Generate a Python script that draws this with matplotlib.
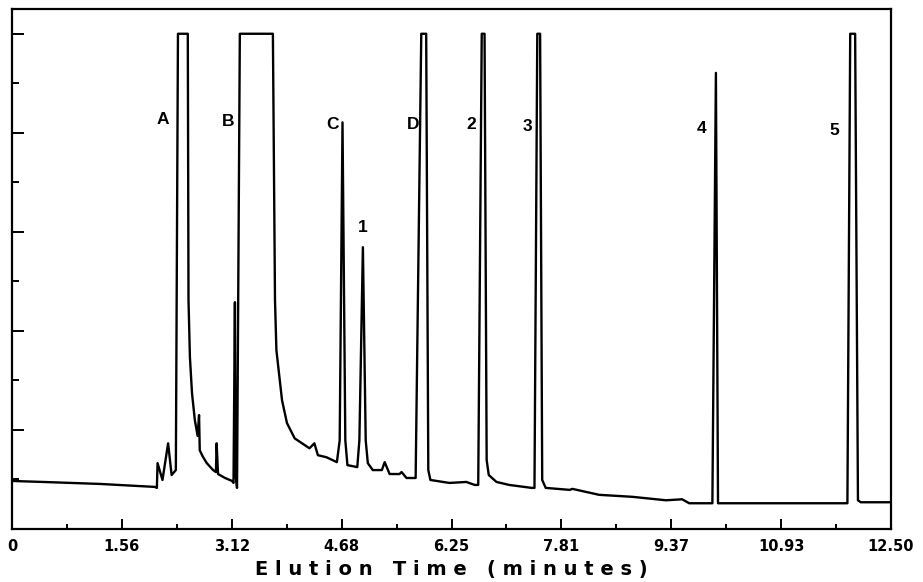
import numpy as np
import matplotlib
matplotlib.use('Agg')
import matplotlib.pyplot as plt

# Trazo del cromatograma (tiempo en minutos, señal en divisiones del eje)
time_min = [0.00, 0.44, 1.25, 2.03, 2.06, 2.07, 2.14, 2.22, 2.27, 2.33,
            2.36, 2.50, 2.51, 2.53, 2.56, 2.60, 2.64, 2.66, 2.67, 2.71,
            2.77, 2.86, 2.90, 2.91, 2.93, 3.03, 3.13, 3.15, 3.17, 3.18,
            3.20, 3.24, 3.71, 3.74, 3.76, 3.84, 3.91, 4.02, 4.23, 4.30,
            4.35, 4.47, 4.62, 4.66, 4.70, 4.74, 4.77, 4.91, 4.94, 4.99,
            5.03, 5.06, 5.13, 5.26, 5.30, 5.37, 5.51, 5.54, 5.61, 5.74,
            5.82, 5.89, 5.92, 5.95, 6.22, 6.46, 6.58, 6.63, 6.68, 6.72,
            6.75, 6.78, 6.89, 7.07, 7.39, 7.43, 7.47, 7.51, 7.54, 7.59,
            7.93, 7.97, 8.35, 8.82, 9.30, 9.53, 9.63, 9.96, 10.01, 10.04,
            10.10, 10.72, 11.88, 11.92, 11.99, 12.03, 12.07, 12.50]
signal = [0.97, 0.95, 0.91, 0.85, 0.83, 1.33, 0.99, 1.73, 1.09, 1.19,
          10.0, 10.0, 4.62, 3.47, 2.74, 2.20, 1.88, 2.30, 1.59, 1.47,
          1.33, 1.19, 1.15, 1.73, 1.11, 1.03, 0.97, 0.93, 4.58, 1.09,
          0.83, 10.0, 10.0, 4.62, 3.61, 2.60, 2.14, 1.83, 1.63, 1.73,
          1.49, 1.45, 1.35, 1.79, 8.21, 1.79, 1.29, 1.25, 1.79, 5.69,
          1.79, 1.33, 1.19, 1.19, 1.35, 1.11, 1.11, 1.15, 1.03, 1.03,
          10.0, 10.0, 1.19, 0.99, 0.93, 0.95, 0.89, 0.89, 10.0, 10.0,
          1.39, 1.09, 0.95, 0.89, 0.83, 0.83, 10.0, 10.0, 0.99, 0.83,
          0.79, 0.81, 0.69, 0.65, 0.58, 0.60, 0.52, 0.52, 9.21, 0.52,
          0.52, 0.52, 0.52, 10.0, 10.0, 0.58, 0.54, 0.54]

# Etiquetas de los picos
peak_names = ['A', 'B', 'C', '1', 'D', '2', '3', '4', '5']
label_t = [2.14, 3.08, 4.56, 4.99, 5.70, 6.53, 7.33, 9.80, 11.70]
label_y = [8.27, 8.23, 8.17, 6.09, 8.17, 8.17, 8.13, 8.08, 8.04]

# Eje x
x_ticks = [0.0, 1.5625, 3.125, 4.6875, 6.25, 7.8125, 9.375, 10.9375, 12.5]
x_labels = ['0', '1.56', '3.12', '4.68', '6.25', '7.81', '9.37', '10.93', '12.50']

fig = plt.figure(figsize=(9.23, 5.82), dpi=100)
ax = fig.add_axes([12/923, 53/582, 879/923, 520/582])

ax.plot(time_min, signal, color='black', lw=1.7, solid_joinstyle='round')

for name, t, y in zip(peak_names, label_t, label_y):
    ax.text(t, y, name, ha='center', va='center', fontsize=12.5,
            fontweight='bold', family='Liberation Sans')

ax.set_xlim(0, 12.5)
ax.set_ylim(0, 10.5)

ax.set_xticks(x_ticks)
ax.set_xticklabels(x_labels, fontsize=10.5, fontweight='bold')
ax.set_xticks(np.array(x_ticks[:-1]) + 0.78125, minor=True)
ax.set_yticks([2, 4, 6, 8, 10])
ax.set_yticks([1, 3, 5, 7, 9], minor=True)
ax.set_yticklabels([])

ax.tick_params(axis='x', which='major', direction='in', length=7, width=1.4, pad=7)
ax.tick_params(axis='x', which='minor', direction='in', length=3.5, width=1.4)
ax.tick_params(axis='y', which='major', direction='in', length=8.5, width=1.4)
ax.tick_params(axis='y', which='minor', direction='in', length=5, width=1.4)

for sp in ax.spines.values():
    sp.set_linewidth(1.6)

fig.text(451/923, 1 - 570/582, 'E l u t i o n   T i m e   ( m i n u t e s )',
         ha='center', va='center', fontsize=14, fontweight='bold')

fig.savefig('out.png', dpi=100, facecolor='white')
